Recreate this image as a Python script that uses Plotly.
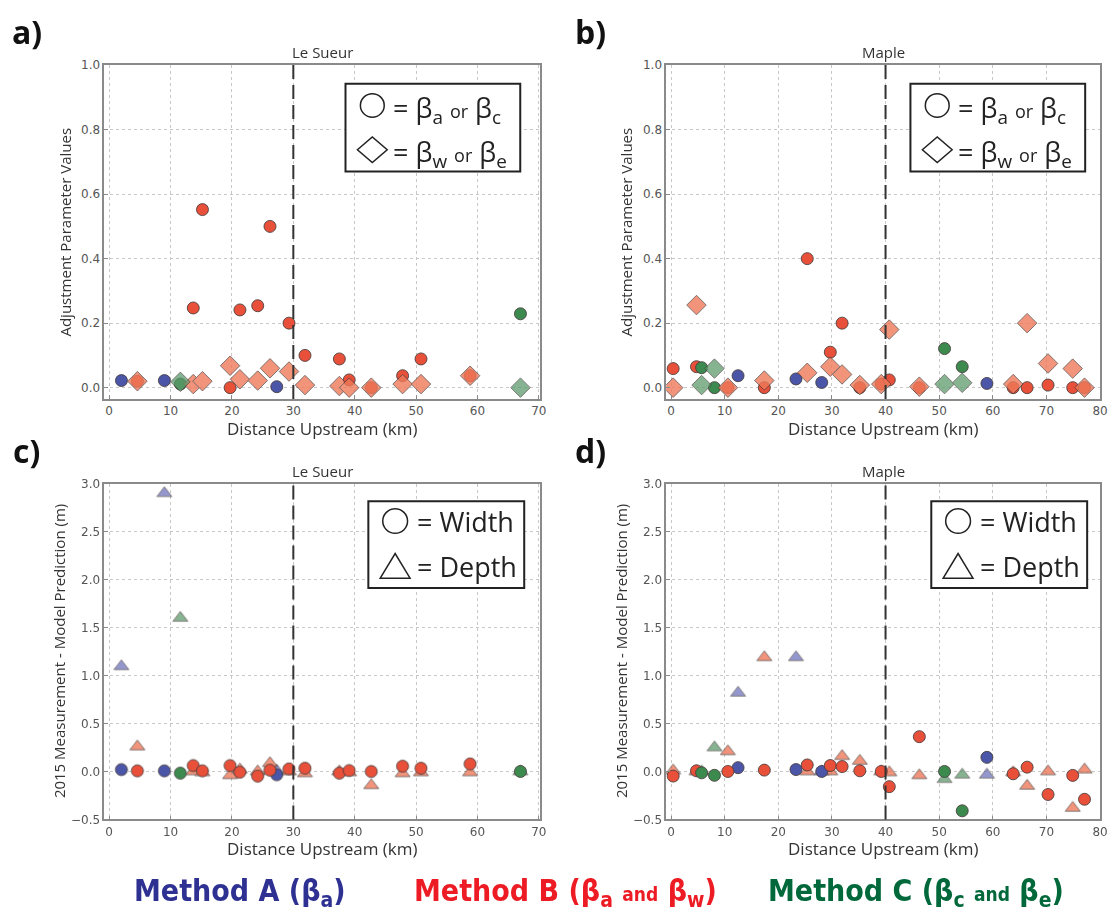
import plotly.graph_objects as go

W, H = 1117, 920

# ---------------- DATA ----------------
# Le Sueur station distances (km)
ls_A_km = [2.0, 9.0, 27.3]
ls_B_km = [4.6, 13.7, 15.2, 19.7, 21.3, 24.2, 26.2, 29.3, 31.9, 37.5, 39.1, 42.7, 47.8, 50.8, 58.8]
ls_C_km = [11.6, 67.0]

# Panel a: Le Sueur adjustment parameters
ls_A_beta_a = [0.022, 0.022, 0.003]
ls_B_beta_a = [0.02, 0.247, 0.552, 0.0, 0.241, 0.254, 0.50, 0.20, 0.10, 0.089, 0.024, 0.0, 0.037, 0.089, 0.037]
ls_B_beta_w = [0.02, 0.011, 0.02, 0.068, 0.026, 0.022, 0.06, 0.05, 0.008, 0.005, 0.0, 0.0, 0.011, 0.011, 0.037]
ls_C_beta_c = [0.011, 0.229]
ls_C_beta_e = [0.018, 0.0]

# Panel c: Le Sueur 2015 measurement - model prediction (m)
ls_A_width = [0.02, 0.007, -0.034]
ls_A_depth = [1.096, 2.90, 0.01]
ls_B_width = [0.007, 0.062, 0.007, 0.062, -0.007, -0.048, 0.014, 0.027, 0.034, -0.017, 0.01, 0.0, 0.055, 0.034, 0.079]
ls_B_depth = [0.26, 0.0, -0.01, -0.04, 0.02, 0.0, 0.086, 0.0, -0.02, 0.0, -0.01, -0.144, -0.02, -0.01, -0.01]
ls_C_width = [-0.017, 0.0]
ls_C_depth = [1.60, 0.0]

# Maple station distances (km)
mp_A_km = [12.5, 23.3, 28.1, 58.9]
mp_B_km = [0.4, 4.75, 10.6, 17.4, 25.4, 29.7, 31.9, 35.2, 39.2, 40.7, 46.3, 63.8, 66.4, 70.3, 74.9, 77.1]
mp_C_km = [5.7, 8.1, 51.0, 54.3]

# Panel b: Maple adjustment parameters
mp_A_beta_a = [0.037, 0.027, 0.016, 0.013]
mp_B_beta_a = [0.059, 0.065, 0.0, 0.0, 0.40, 0.11, 0.20, 0.0, 0.011, 0.024, 0.0, 0.0, 0.0, 0.008, 0.0, 0.0]
mp_B_beta_w = [0.0, 0.256, 0.0, 0.022, 0.046, 0.065, 0.041, 0.008, 0.011, 0.18, 0.003, 0.011, 0.20, 0.075, 0.059, 0.0]
mp_C_beta_c = [0.062, 0.0, 0.121, 0.065]
mp_C_beta_e = [0.008, 0.059, 0.011, 0.015]

# Panel d: Maple 2015 measurement - model prediction (m)
mp_A_width = [0.04, 0.02, 0.0, 0.147]
mp_A_depth = [0.82, 1.19, 0.0, -0.034]
mp_B_width = [-0.048, 0.007, 0.0, 0.014, 0.068, 0.062, 0.051, 0.007, 0.0, -0.158, 0.363, -0.024, 0.045, -0.24, -0.041, -0.29]
mp_B_depth = [0.01, 0.0, 0.21, 1.19, 0.0, 0.0, 0.16, 0.11, 0.0, -0.01, -0.04, -0.01, -0.15, 0.0, -0.38, 0.02]
mp_C_width = [-0.014, -0.04, 0.0, -0.41]
mp_C_depth = [0.0, 0.25, -0.08, -0.034]

river_names = ["Le Sueur", "Maple"]
knickpoint_km = [30, 40]
panel_letters = ["a)", "b)", "c)", "d)"]

# ---------------- STYLE ----------------
COL_A = "#4B56A8"
COL_B = "#E8503A"
COL_C = "#3D8A4F"
COL_B_LIGHT = "#EE7A5A"
COL_C_LIGHT = "#5E9A6C"
COL_A_LIGHT = "#6F75BD"
EDGE = "rgba(70,60,60,0.85)"


def PX(x):
    return x / W


def PY(y):
    return 1 - y / H


fig = go.Figure()

# axes geometry (pixels)
ax_geo = {
    1: dict(x=(105, 544), y=(59, 398), xr=[-0.8, 70.2], yr=[-0.035, 1.0], dy=0.2),
    2: dict(x=(671, 1108), y=(59, 398), xr=[-0.9, 80], yr=[-0.035, 1.0], dy=0.2),
    3: dict(x=(105, 544), y=(484, 825), xr=[-0.8, 70.2], yr=[-0.5, 3.0], dy=0.5),
    4: dict(x=(671, 1108), y=(484, 825), xr=[-0.9, 80], yr=[-0.5, 3.0], dy=0.5),
}


def add(i, xs, ys, symbol, color, size, opacity=1.0):
    xa = "x" if i == 1 else f"x{i}"
    ya = "y" if i == 1 else f"y{i}"
    fig.add_trace(go.Scatter(
        x=xs, y=ys, mode="markers", xaxis=xa, yaxis=ya, showlegend=False,
        opacity=opacity,
        marker=dict(symbol=symbol, color=color, size=size,
                    line=dict(color=EDGE, width=1)),
    ))


# Panel a
add(1, ls_A_km, ls_A_beta_a, "circle", COL_A, 12)
add(1, ls_B_km, ls_B_beta_a, "circle", COL_B, 12)
add(1, ls_C_km, ls_C_beta_c, "circle", COL_C, 12)
add(1, ls_B_km, ls_B_beta_w, "diamond", COL_B_LIGHT, 15, 0.8)
add(1, ls_C_km, ls_C_beta_e, "diamond", COL_C_LIGHT, 15, 0.75)
# Panel b
add(2, mp_A_km, mp_A_beta_a, "circle", COL_A, 12)
add(2, mp_B_km, mp_B_beta_a, "circle", COL_B, 12)
add(2, mp_C_km, mp_C_beta_c, "circle", COL_C, 12)
add(2, mp_B_km, mp_B_beta_w, "diamond", COL_B_LIGHT, 15, 0.8)
add(2, mp_C_km, mp_C_beta_e, "diamond", COL_C_LIGHT, 15, 0.75)
# Panel c
add(3, ls_A_km, ls_A_depth, "triangle-up", COL_A_LIGHT, 13, 0.75)
add(3, ls_B_km, ls_B_depth, "triangle-up", COL_B_LIGHT, 13, 0.8)
add(3, ls_C_km, ls_C_depth, "triangle-up", COL_C_LIGHT, 13, 0.75)
add(3, ls_A_km, ls_A_width, "circle", COL_A, 12)
add(3, ls_B_km, ls_B_width, "circle", COL_B, 12)
add(3, ls_C_km, ls_C_width, "circle", COL_C, 12)
# Panel d
add(4, mp_A_km, mp_A_depth, "triangle-up", COL_A_LIGHT, 13, 0.75)
add(4, mp_B_km, mp_B_depth, "triangle-up", COL_B_LIGHT, 13, 0.8)
add(4, mp_C_km, mp_C_depth, "triangle-up", COL_C_LIGHT, 13, 0.75)
add(4, mp_A_km, mp_A_width, "circle", COL_A, 12)
add(4, mp_B_km, mp_B_width, "circle", COL_B, 12)
add(4, mp_C_km, mp_C_width, "circle", COL_C, 12)

layout = dict(
    width=W, height=H, margin=dict(l=0, r=0, t=0, b=0),
    paper_bgcolor="white", plot_bgcolor="white", showlegend=False,
)
tickfont = dict(family="DejaVu Sans", size=12, color="#555")
for i, g in ax_geo.items():
    xk = "xaxis" if i == 1 else f"xaxis{i}"
    yk = "yaxis" if i == 1 else f"yaxis{i}"
    ya = "y" if i == 1 else f"y{i}"
    xa = "x" if i == 1 else f"x{i}"
    layout[xk] = dict(
        domain=[PX(g["x"][0]), PX(g["x"][1])], anchor=ya, range=g["xr"],
        dtick=10, tick0=0, showgrid=True, gridcolor="#c8c8c8", griddash="dot",
        showline=True, mirror=True, linecolor="#8a8a8a", linewidth=1.5,
        ticks="inside", ticklen=4, tickcolor="#8a8a8a", tickfont=tickfont,
        zeroline=False,
    )
    layout[yk] = dict(
        domain=[PY(g["y"][1]), PY(g["y"][0])], anchor=xa, range=g["yr"],
        dtick=g["dy"], tick0=0, tickformat=".1f", showgrid=True, gridcolor="#c8c8c8",
        griddash="dot", showline=True, mirror=True, linecolor="#8a8a8a", linewidth=1.5,
        ticks="inside", ticklen=4, tickcolor="#8a8a8a", tickfont=tickfont,
        zeroline=False,
    )
fig.update_layout(**layout)

shapes = []
annotations = []
TXT = "#333"

for i, g in ax_geo.items():
    xa = "x" if i == 1 else f"x{i}"
    ya = "y" if i == 1 else f"y{i}"
    river = river_names[(i - 1) % 2]
    kp = knickpoint_km[(i - 1) % 2]
    # knickpoint dashed line
    shapes.append(dict(type="line", xref=xa, yref=f"{ya} domain", x0=kp, x1=kp, y0=0, y1=1,
                       line=dict(color="#333", width=2, dash="14px,6px")))
    cx = (g["x"][0] + g["x"][1]) / 2
    # river title
    annotations.append(dict(text=river, xref="paper", yref="paper", x=PX(cx), y=PY(g["y"][0] - 13),
                            showarrow=False, xanchor="center", yanchor="middle",
                            font=dict(family="Open Sans", size=15, color=TXT)))
    # x title
    annotations.append(dict(text="Distance Upstream (km)", xref="paper", yref="paper", x=PX(cx),
                            y=PY(g["y"][1] + 30), showarrow=False, xanchor="center", yanchor="middle",
                            font=dict(family="Open Sans", size=17, color=TXT)))
    # y title
    ytitle = "Adjustment Parameter Values" if i <= 2 else "2015 Measurement - Model Prediction (m)"
    yoff = 40 if i <= 2 else 46
    cy = (g["y"][0] + g["y"][1]) / 2
    annotations.append(dict(text=ytitle, xref="paper", yref="paper", x=PX(g["x"][0] - yoff), y=PY(cy),
                            showarrow=False, textangle=-90, xanchor="center", yanchor="middle",
                            font=dict(family="Open Sans", size=15, color=TXT)))
    # panel letter
    lx = 27 if g["x"][0] < 300 else 595
    annotations.append(dict(text="<b>" + panel_letters[i - 1] + "</b>", xref="paper", yref="paper",
                            x=PX(lx), y=PY(g["y"][0] - 34), showarrow=False,
                            xanchor="center", yanchor="middle",
                            font=dict(family="Open Sans", size=32, color="#111")))

# in-panel symbol keys
key_boxes = {1: (348, 78, 524, 167), 2: (917, 78, 1093, 167),
             3: (371, 502, 528, 590), 4: (938, 502, 1095, 590)}
for i, (x0, y0, x1, y1) in key_boxes.items():
    shapes.append(dict(type="rect", xref="paper", yref="paper", x0=PX(x0), x1=PX(x1),
                       y0=PY(y1), y1=PY(y0), line=dict(color="#222", width=2), fillcolor="white",
                       layer="above"))
    if i <= 2:
        cxs = x0 + 27
        r1, r2 = 100, 145
        # circle
        shapes.append(dict(type="circle", xref="paper", yref="paper", x0=PX(cxs - 12), x1=PX(cxs + 12),
                           y0=PY(r1 + 12), y1=PY(r1 - 12), line=dict(color="#222", width=1.5),
                           layer="above"))
        # diamond
        path = (f"M {PX(cxs - 15)} {PY(r2)} L {PX(cxs)} {PY(r2 - 13)} L {PX(cxs + 15)} {PY(r2)} "
                f"L {PX(cxs)} {PY(r2 + 13)} Z")
        shapes.append(dict(type="path", xref="paper", yref="paper", path=path,
                           line=dict(color="#222", width=1.5), layer="above"))
        t1 = "= β<sub>a</sub> <span style='font-size:18px'>or</span> β<sub>c</sub>"
        t2 = "= β<sub>w</sub> <span style='font-size:18px'>or</span> β<sub>e</sub>"
        for t, ry in ((t1, r1), (t2, r2)):
            annotations.append(dict(text=t, xref="paper", yref="paper", x=PX(cxs + 19), y=PY(ry + 4),
                                    showarrow=False, xanchor="left", yanchor="middle",
                                    font=dict(family="Open Sans", size=27, color="#222")))
    else:
        cxs = x0 + 27
        r1, r2 = 522, 568
        shapes.append(dict(type="circle", xref="paper", yref="paper", x0=PX(cxs - 12.5), x1=PX(cxs + 12.5),
                           y0=PY(r1 + 12.5), y1=PY(r1 - 12.5), line=dict(color="#222", width=1.5),
                           layer="above"))
        path = (f"M {PX(cxs - 15)} {PY(r2 + 12)} L {PX(cxs)} {PY(r2 - 13)} L {PX(cxs + 15)} {PY(r2 + 12)} Z")
        shapes.append(dict(type="path", xref="paper", yref="paper", path=path,
                           line=dict(color="#222", width=1.5), layer="above"))
        for t, ry in (("= Width", r1), ("= Depth", r2)):
            annotations.append(dict(text=t, xref="paper", yref="paper", x=PX(cxs + 20), y=PY(ry),
                                    showarrow=False, xanchor="left", yanchor="middle",
                                    font=dict(family="Open Sans", size=27, color="#222")))

# bottom method legend
method_labels = [
    "<b>Method A (β<sub>a</sub>)</b>",
    "<b>Method B (β<sub>a</sub> <span style='font-size:19px'>and</span> β<sub>w</sub>)</b>",
    "<b>Method C (β<sub>c</sub> <span style='font-size:19px'>and</span> β<sub>e</sub>)</b>",
]
method_colors = ["#2E3192", "#ED1C24", "#00683A"]
method_x = [133, 415, 772]
for lab, col, mx in zip(method_labels, method_colors, method_x):
    annotations.append(dict(text=lab, xref="paper", yref="paper", x=PX(mx), y=PY(899),
                            showarrow=False, xanchor="left", yanchor="middle",
                            font=dict(family="Liberation Sans Narrow, DejaVu Sans Condensed, Roboto",
                                      size=30, color=col)))

fig.update_layout(shapes=shapes, annotations=annotations)
fig.write_html("out.html")
